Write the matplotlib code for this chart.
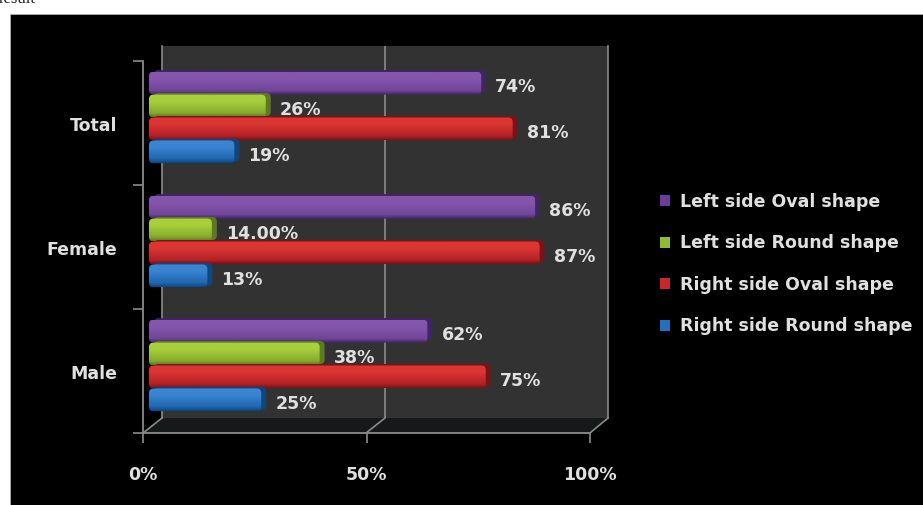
import numpy as np
import matplotlib.pyplot as plt
from matplotlib.colors import LinearSegmentedColormap
from matplotlib.patches import FancyBboxPatch, Polygon, Rectangle, Patch
from matplotlib.transforms import Affine2D

# Values
categories = ['Male', 'Female', 'Total']
series_names = ['Left side Oval shape', 'Left side Round shape',
                'Right side Oval shape', 'Right side Round shape']
left_oval = [62, 86, 74]
left_round = [38, 14, 26]
right_oval = [75, 87, 81]
right_round = [25, 13, 19]
all_series = [left_oval, left_round, right_oval, right_round]
value_labels = [['62%', '86%', '74%'], ['38%', '14.00%', '26%'],
                ['75%', '87%', '81%'], ['25%', '13%', '19%']]
x_ticks = [0, 50, 100]
x_tick_labels = ['0%', '50%', '100%']

colors = [('#8555ad', '#6f4596', '#3f2466'),
          ('#a8d03c', '#86ab2c', '#5c7a1e'),
          ('#dc3632', '#b32226', '#7a1317'),
          ('#3a84d2', '#1f66ae', '#0c4782')]
legend_colors = ['#6a3d98', '#8fbc35', '#c8282a', '#2470be']

W, H = 923, 505
TEXT = '#e0e0e0'
LINE = '#8a8a8a'
FONT = 'DejaVu Sans'

def px_axes(fig, x0, x1, y_top, y_bottom, **kw):
    return fig.add_axes([x0 / W, 1 - y_bottom / H, (x1 - x0) / W, (y_bottom - y_top) / H], **kw)

fig = plt.figure(figsize=(W / 100, H / 100), dpi=100, facecolor='white')
fig.patches.append(Rectangle((10 / W, 0), 1, 1 - 14 / H, transform=fig.transFigure,
                             facecolor='black', edgecolor='#bbbbbb', linewidth=0.5, zorder=-2))
fig.text(-1 / W, 1 - 3 / H, 'result', family='Liberation Serif', fontsize=12, color='#222222')

# back wall
wall = px_axes(fig, 162, 608, 46, 418, facecolor='#323232')
wall.set_xlim(0, 100)
wall.set_yticks([])
wall.set_xticks([50])
wall.tick_params(length=0, labelbottom=False)
wall.grid(axis='x', color=LINE, linewidth=1.2)
for side in ['top', 'bottom']:
    wall.spines[side].set_visible(False)
for side in ['left', 'right']:
    wall.spines[side].set_color(LINE)
    wall.spines[side].set_linewidth(1.2)

# floor and its slanted edges
to_fig = lambda x, y: (x / W, 1 - y / H)
fig.patches.append(Polygon([to_fig(143, 433), to_fig(590, 433), to_fig(608, 418), to_fig(162, 418)],
                           transform=fig.transFigure, facecolor='#16191a', edgecolor='none', zorder=-1))
for x0, x1 in [(143, 162), (366, 385), (590, 608)]:
    fig.add_artist(plt.Line2D([x0 / W, x1 / W], [1 - 433 / H, 1 - 418 / H], color=LINE, linewidth=1.2))

# front axes with the ticks
front = px_axes(fig, 143, 590, 61, 433)
front.patch.set_alpha(0)
front.set_xlim(0, 100)
front.set_ylim(-0.5, 2.5)
front.set_xticks(x_ticks)
front.set_xticklabels(x_tick_labels, family=FONT, fontsize=12.5, fontweight='bold', color=TEXT)
front.set_yticks([-0.5, 0.5, 1.5, 2.5])
front.set_yticklabels([])
front.tick_params(axis='x', length=7, width=1.2, color=LINE, pad=17)
front.tick_params(axis='y', length=7, width=1.2, color=LINE)
for side in ['top', 'right']:
    front.spines[side].set_visible(False)
for side in ['left', 'bottom']:
    front.spines[side].set_color(LINE)
    front.spines[side].set_linewidth(1.3)
for i, name in enumerate(categories):
    front.annotate(name, (0, i), xytext=(-26, -3), textcoords='offset pixels', ha='right', va='center',
                   family=FONT, fontsize=12.5, fontweight='bold', color=TEXT)

# bars, shifted a little to sit inside the 3D box
bars = px_axes(fig, 149, 598, 55.5, 427.5)
bars.patch.set_alpha(0)
bars.axis('off')

bar_h = 0.185
aspect = (449 / 100) / (372 / 3)
offsets = [1.5, 0.5, -0.5, -1.5]
depth = Affine2D().translate(5, 1.5)
stops = [0, 0.3, 0.82, 1]

for row in range(3):
    for s, vals in enumerate(all_series):
        v = vals[row]
        y0 = row + offsets[s] * bar_h - bar_h / 2
        top, mid, bottom = colors[s]
        # darker copy behind for the top and end faces
        back = FancyBboxPatch((0, y0), v, bar_h, boxstyle='round,pad=0,rounding_size=1',
                              mutation_aspect=aspect, facecolor=bottom, edgecolor='none', zorder=2 + s)
        bars.add_patch(back)
        back.set_transform(bars.transData + depth)
        shape = FancyBboxPatch((0, y0), v, bar_h, boxstyle='round,pad=0,rounding_size=1',
                               mutation_aspect=aspect, facecolor='none', edgecolor='none', zorder=2 + s)
        bars.add_patch(shape)
        cmap = LinearSegmentedColormap.from_list('b', list(zip(stops, [top, top, mid, bottom])), N=64)
        img = bars.imshow(np.linspace(0, 1, 64)[:, None], extent=(0, v, y0, y0 + bar_h), origin='upper',
                          aspect='auto', cmap=cmap, zorder=2 + s)
        img.set_clip_path(shape)
        bars.annotate(value_labels[s][row], (v, y0 + bar_h / 2), xytext=(14, -4), textcoords='offset pixels',
                      ha='left', va='center', family=FONT, fontsize=12.5, fontweight='bold',
                      color=TEXT, zorder=10, annotation_clip=False)
bars.set_xlim(0, 100)
bars.set_ylim(-0.5, 2.5)

handles = [Patch(facecolor=c, edgecolor='none') for c in legend_colors]
fig.legend(handles, series_names, loc='center left', bbox_to_anchor=(644 / W, 1 - 264 / H),
           frameon=False, ncol=1, handlelength=0.6, handleheight=0.6, handletextpad=0.6,
           labelspacing=1.36, labelcolor=TEXT, prop={'family': FONT, 'size': 12.5, 'weight': 'bold'})

fig.savefig('out.png', dpi=100, facecolor='white')
